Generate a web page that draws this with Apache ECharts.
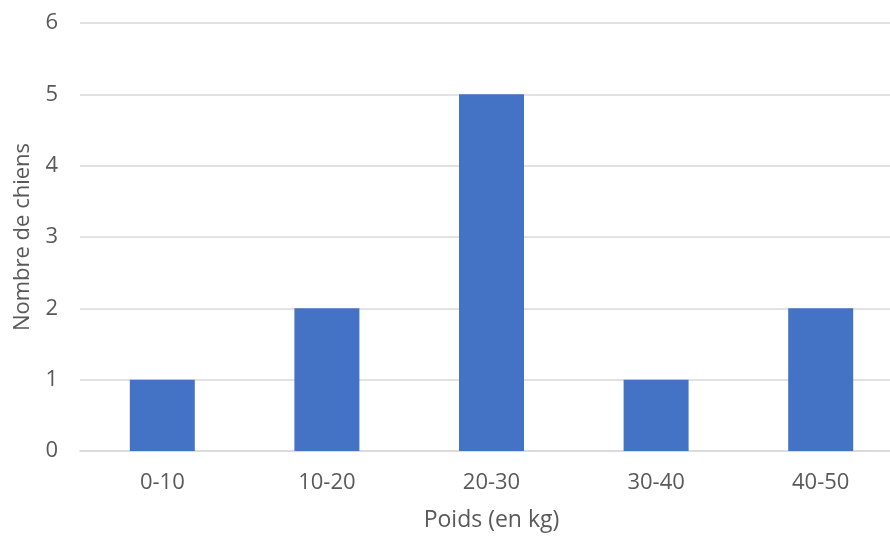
<!DOCTYPE html>
<html>
<head>
<meta charset="utf-8">
<script src="https://cdn.jsdelivr.net/npm/echarts@6/dist/echarts.min.js"></script>
<style>html,body{margin:0;padding:0;background:#fff;overflow:hidden;width:890px;height:537px}#c{width:903px;height:537px}</style>
</head>
<body>
<div id="c"></div>
<script>
const categories = ['0-10', '10-20', '20-30', '30-40', '40-50'];
const counts = [1, 2, 5, 1, 2];
const yTicks = [0, 1, 2, 3, 4, 5, 6];

const chart = echarts.init(document.getElementById('c'), null, {renderer: 'canvas'});
const txt = '#595959';
const font = 'Open Sans';
chart.setOption({
  animation: false,
  grid: {left: 80, right: 0, top: 23, bottom: 86, containLabel: false},
  xAxis: {
    type: 'category',
    data: categories,
    name: 'Poids (en kg)',
    nameLocation: 'middle',
    nameGap: 58,
    nameTextStyle: {color: txt, fontSize: 23, fontFamily: font},
    axisLine: {show: true, lineStyle: {color: '#D9D9D9', width: 1.5}},
    axisTick: {show: false},
    axisLabel: {color: txt, fontSize: 22, fontFamily: font, margin: 21}
  },
  yAxis: {
    type: 'value',
    min: yTicks[0],
    max: yTicks[yTicks.length - 1],
    interval: 1,
    name: 'Nombre de chiens',
    nameLocation: 'middle',
    nameGap: 46,
    nameTextStyle: {color: txt, fontSize: 22, fontFamily: font},
    axisLine: {show: false},
    axisTick: {show: false},
    axisLabel: {color: txt, fontSize: 22, fontFamily: font, margin: 22},
    splitLine: {lineStyle: {color: '#D9D9D9', width: 1.5}}
  },
  series: [{
    type: 'bar',
    data: counts,
    barWidth: 65,
    itemStyle: {color: '#4472C4'}
  }]
});
</script>
</body>
</html>
